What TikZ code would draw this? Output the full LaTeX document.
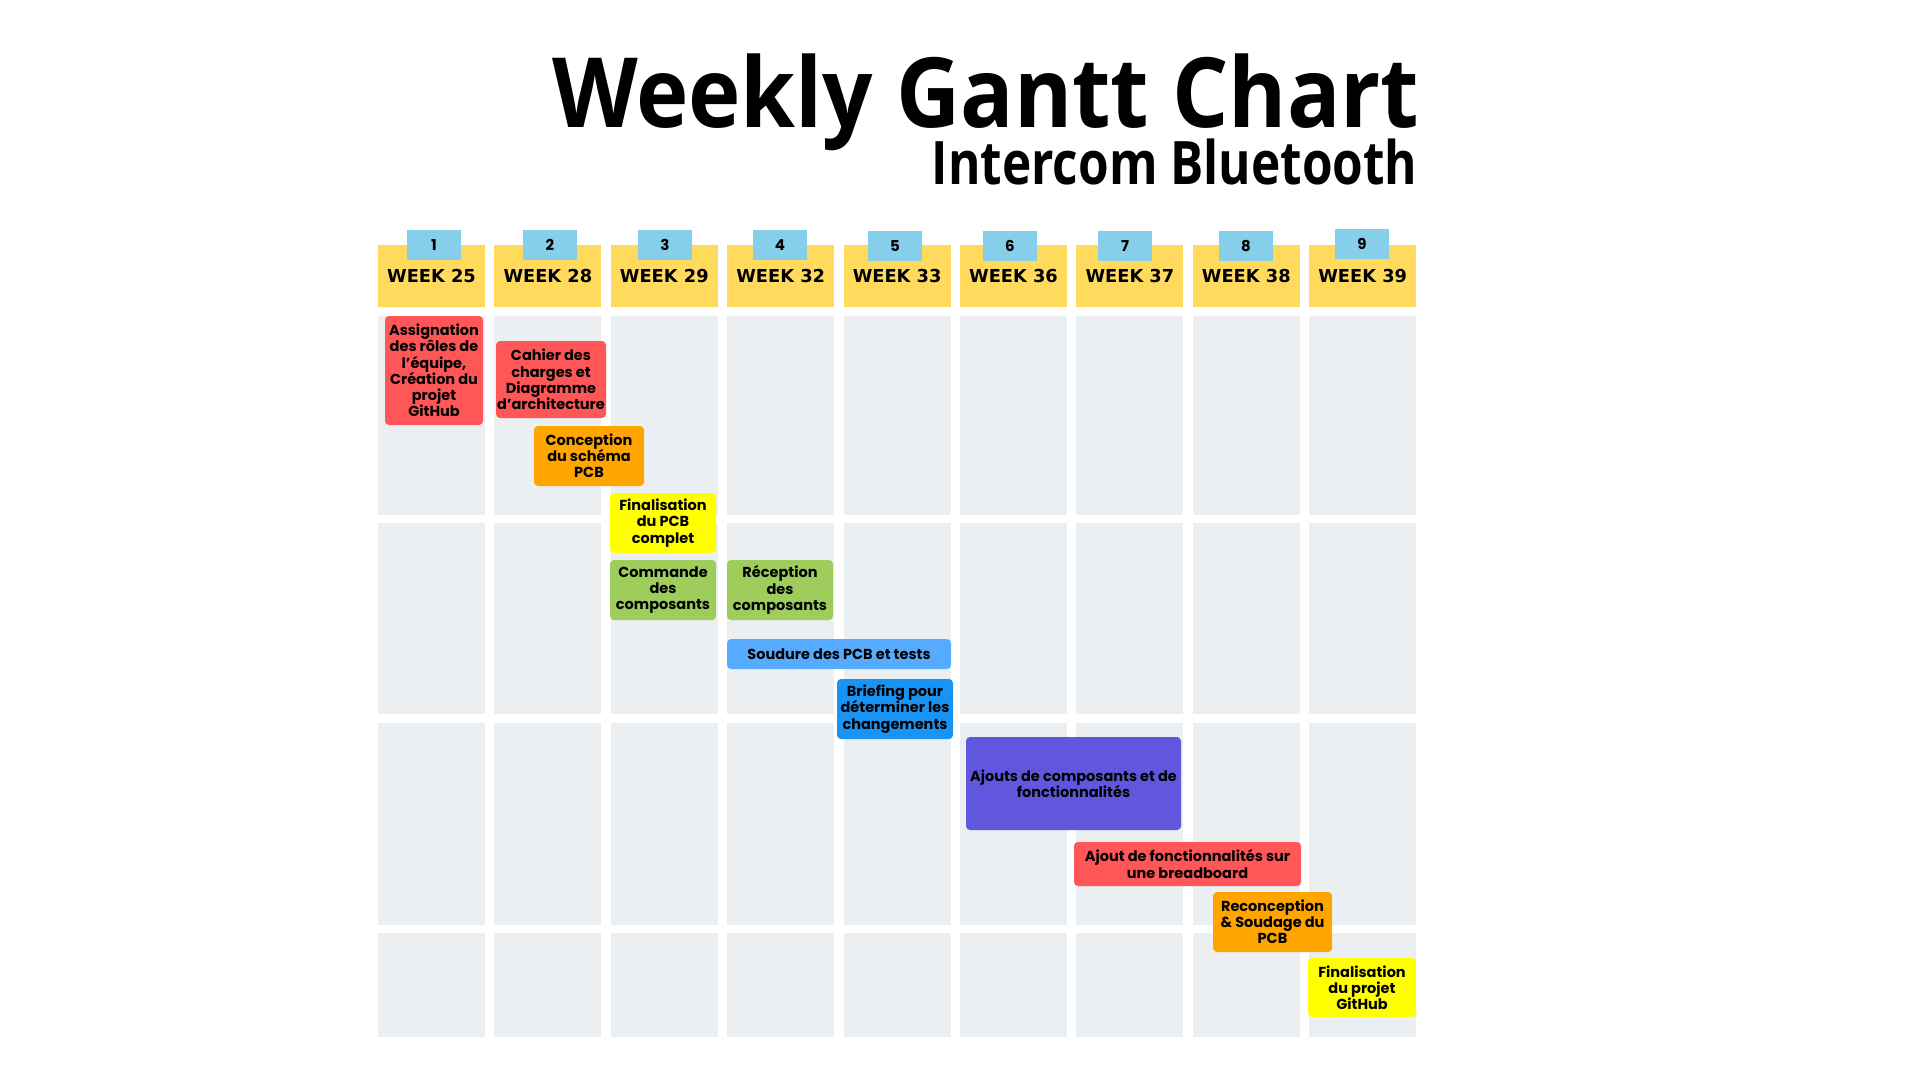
\documentclass[tikz,border=0pt]{standalone}
\usepackage{fontspec}
\setmainfont{Poppins}
\newfontfamily\headfont{DejaVu Sans}
\newfontfamily\titlefont{Open Sans}
\definecolor{headyellow}{HTML}{FFDA5C}
\definecolor{tabblue}{HTML}{85CFEB}
\definecolor{cellgray}{HTML}{ECEFF2}
\definecolor{taskred}{HTML}{FF5757}
\definecolor{taskorange}{HTML}{FFA500}
\definecolor{taskyellow}{HTML}{FFFF00}
\definecolor{taskgreen}{HTML}{9ECD5C}
\definecolor{tasksky}{HTML}{57ABFF}
\definecolor{taskblue}{HTML}{1A94F4}
\definecolor{taskpurple}{HTML}{6157DF}

\begin{document}
\begin{tikzpicture}[
  x=1pt, y=-1pt,
  weekhead/.style={rectangle, fill=headyellow, minimum width=107pt, minimum height=62pt,
    inner sep=0pt, text height=13pt, text depth=0pt,
    font=\headfont\bfseries\fontsize{17.8}{20}\selectfont},
  weektab/.style={rectangle, fill=tabblue, minimum width=54pt, minimum height=30pt,
    inner sep=0pt, font=\bfseries\fontsize{15}{18}\selectfont},
  task/.style={rectangle, rounded corners=4pt, inner sep=0pt, align=center,
    font=\bfseries\fontsize{14.5}{16.2}\selectfont},
  taskred/.style={task, fill=taskred},
  taskorange/.style={task, fill=taskorange},
  taskyellow/.style={task, fill=taskyellow},
  taskgreen/.style={task, fill=taskgreen},
  tasksky/.style={task, fill=tasksky},
  taskblue/.style={task, fill=taskblue},
  taskpurple/.style={task, fill=taskpurple},
]
\fill[white] (0,0) rectangle (1920,1080);
\useasboundingbox (0,0) rectangle (1920,1080);

% grid of week cells
\foreach \i in {0,...,8}
  \foreach \ya/\yb in {316/515,523/714,723/925,933/1037}
    \fill[cellgray] ({378+116.4*\i},\ya) rectangle ({485+116.4*\i},\yb);

\node[anchor=base east, text depth=0pt, font=\titlefont\bfseries\fontsize{97}{100}\selectfont]
  (title) at (1423,127) {\scalebox{0.914}[1]{Weekly Gantt Chart}};
\node[anchor=base east, font=\titlefont\bfseries\fontsize{60}{64}\selectfont]
  (subtitle) at (1421,184) {\scalebox{0.825}[1]{Intercom Bluetooth}};

\node[weekhead] (wk25) at (431.5,276)  {WEEK 25};
\node[weekhead] (wk28) at (547.9,276)  {WEEK 28};
\node[weekhead] (wk29) at (664.3,276)  {WEEK 29};
\node[weekhead] (wk32) at (780.7,276)  {WEEK 32};
\node[weekhead] (wk33) at (897.1,276)  {WEEK 33};
\node[weekhead] (wk36) at (1013.5,276) {WEEK 36};
\node[weekhead] (wk37) at (1129.9,276) {WEEK 37};
\node[weekhead] (wk38) at (1246.3,276) {WEEK 38};
\node[weekhead] (wk39) at (1362.7,276) {WEEK 39};

\node[weektab] (num1) at (434,245)    {1};
\node[weektab] (num2) at (550,245)    {2};
\node[weektab] (num3) at (665,245)    {3};
\node[weektab] (num4) at (780,245)    {4};
\node[weektab] (num5) at (895,246)    {5};
\node[weektab] (num6) at (1010,246)   {6};
\node[weektab] (num7) at (1125,246)   {7};
\node[weektab] (num8) at (1246,246)   {8};
\node[weektab] (num9) at (1362,244)   {9};

\node[taskred, minimum width=98pt, minimum height=109pt] (assign) at (434,370.5)
  {Assignation\\des rôles de\\l’équipe,\\Création du\\projet\\GitHub};
\node[taskred, minimum width=110pt, minimum height=77pt] (cahier) at (551,379.5)
  {Cahier des\\charges et\\Diagramme\\d’architecture};
\node[taskorange, minimum width=110pt, minimum height=60pt] (concep) at (589,456)
  {Conception\\du schéma\\PCB};
\node[taskyellow, minimum width=106pt, minimum height=60pt] (finpcb) at (663,523)
  {Finalisation\\du PCB\\complet};
\node[taskgreen, minimum width=106pt, minimum height=60pt] (commande) at (663,590)
  {Commande\\des\\composants};
\node[taskgreen, minimum width=106pt, minimum height=60pt] (reception) at (780,590)
  {Réception\\des\\composants};
\node[tasksky, minimum width=224pt, minimum height=30pt] (soudure) at (839,654)
  {Soudure des PCB et tests};
\node[taskblue, minimum width=116pt, minimum height=60pt] (briefing) at (895,709)
  {Briefing pour\\déterminer les\\changements};
\node[taskpurple, minimum width=215pt, minimum height=93pt] (ajouts) at (1073.5,783.5)
  {Ajouts de composants et de\\fonctionnalités};
\node[taskred, minimum width=227pt, minimum height=44pt] (breadboard) at (1187.5,864)
  {Ajout de fonctionnalités sur\\une breadboard};
\node[taskorange, minimum width=119pt, minimum height=60pt] (reconcep) at (1272.5,922)
  {Reconception\\\& Soudage du\\PCB};
\node[taskyellow, minimum width=108pt, minimum height=59pt] (finprojet) at (1362,987.5)
  {Finalisation\\du projet\\GitHub};
\end{tikzpicture}
\end{document}
